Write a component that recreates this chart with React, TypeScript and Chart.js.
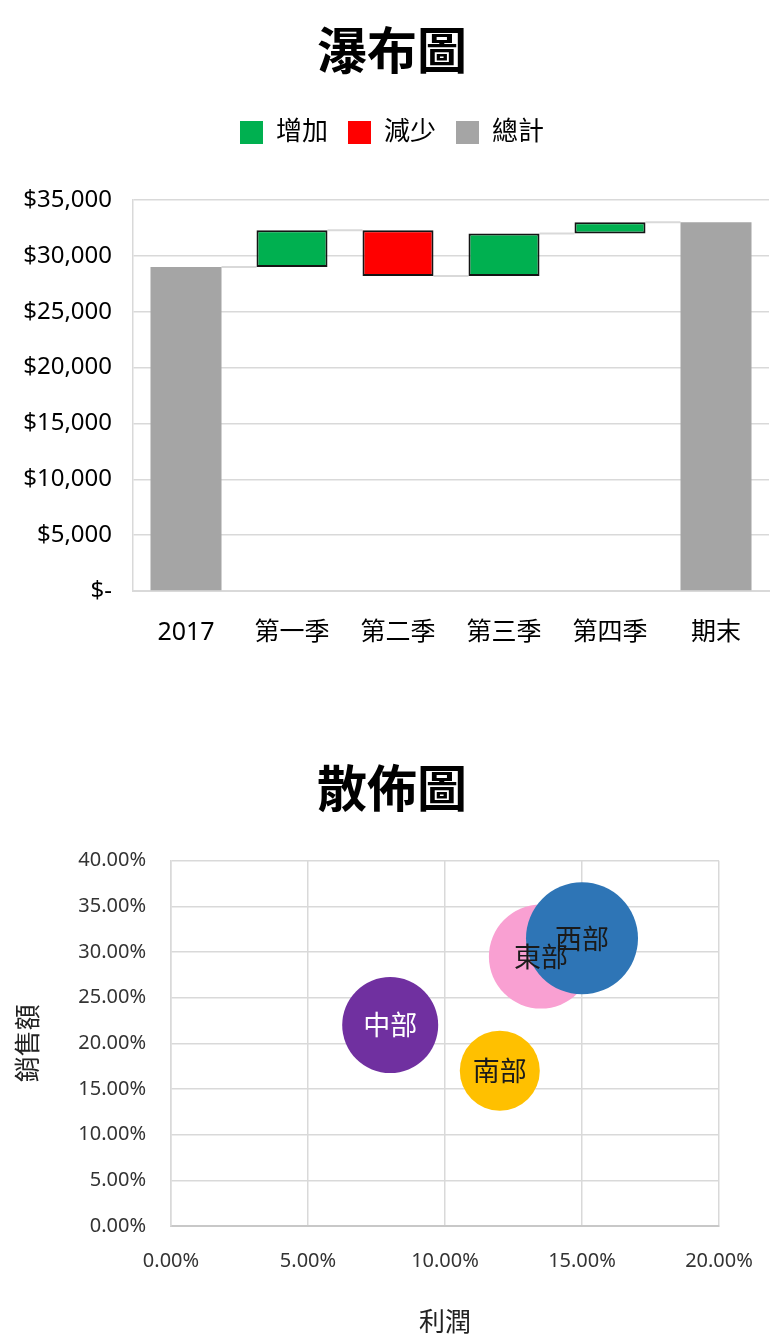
import React, { useEffect, useRef } from 'react';
import { Chart, registerables } from 'chart.js';

Chart.register(...registerables);

// ---------- Waterfall data ----------
const waterfallTitle = '瀑布圖';
const waterfallCategories = ['2017', '第一季', '第二季', '第三季', '第四季', '期末'];
const legendNames = ['增加', '減少', '總計'];
const startTotal = 29000;
const quarterChanges = [3300, -4100, 3800, 1000];
const endTotal = 33000;
const waterfallYMin = 0;
const waterfallYMax = 35000;
const waterfallYStep = 5000;

// ---------- Bubble data ----------
const scatterTitle = '散佈圖';
const regionNames = ['中部', '南部', '東部', '西部'];
const profitValues = [8, 12, 13.5, 15];
const salesValues = [22, 17, 29.5, 31.5];
const bubbleSizes = [48, 40, 52, 56];
const xAxisTitle = '利潤';
const yAxisTitle = '銷售額';
const scatterXMax = 20;
const scatterYMax = 40;
const scatterStep = 5;

const FONT = "'Noto Sans', 'Noto Sans CJK TC', sans-serif";
const CJK_FONT = "'Noto Sans CJK TC', 'Noto Sans', sans-serif";
const GREEN = '#00B050';
const RED = '#FF0000';
const GRAY = '#A5A5A5';
const GRID = '#D9D9D9';
const regionColors = ['#7030A0', '#FFC000', '#F9A0D2', '#2E75B6'];
const regionTextColors = ['#FFFFFF', '#1a1a1a', '#1a1a1a', '#1a1a1a'];

// an empty axis on the right that reserves space so the title stays centred on the canvas
const rightSpacer = (w: number) => ({
  type: 'linear',
  position: 'right',
  display: true,
  grid: { display: false, drawTicks: false },
  border: { display: false },
  ticks: { display: false },
  afterFit: (s: any) => { s.width = w; },
});

function WaterfallChart() {
  const ref = useRef<HTMLCanvasElement | null>(null);
  useEffect(() => {
    if (!ref.current) return;
    const inc: any[] = [null];
    const dec: any[] = [null];
    const tot: any[] = [[0, startTotal]];
    const levels: number[] = [startTotal];
    let level = startTotal;
    quarterChanges.forEach((c) => {
      const next = level + c;
      if (c >= 0) {
        inc.push([level, next]);
        dec.push(null);
      } else {
        inc.push(null);
        dec.push([next, level]);
      }
      tot.push(null);
      level = next;
      levels.push(level);
    });
    inc.push(null);
    dec.push(null);
    tot.push([0, endTotal]);

    const connectorPlugin = {
      id: 'connectors',
      beforeDatasetsDraw(chart: any) {
        const { ctx, scales } = chart;
        const getBar = (i: number) => {
          for (let d = 0; d < chart.data.datasets.length; d++) {
            const v = chart.data.datasets[d].data[i];
            if (v !== null && v !== undefined) return chart.getDatasetMeta(d).data[i];
          }
          return null;
        };
        ctx.save();
        ctx.strokeStyle = GRID;
        ctx.lineWidth = 2;
        for (let i = 0; i < levels.length; i++) {
          const a: any = getBar(i);
          const b: any = getBar(i + 1);
          if (!a || !b) continue;
          const y = scales.y.getPixelForValue(levels[i]);
          ctx.beginPath();
          ctx.moveTo(a.x + a.width / 2, y);
          ctx.lineTo(b.x - b.width / 2, y);
          ctx.stroke();
        }
        ctx.restore();
      },
    };

    const legendSpacer = {
      id: 'legendSpacer',
      beforeInit(chart: any) {
        const orig = chart.legend.fit;
        chart.legend.fit = function () {
          orig.call(this);
          this.height += 44.5;
        };
      },
    };

    const chart = new Chart(ref.current, {
      type: 'bar',
      data: {
        labels: waterfallCategories,
        datasets: [
          { label: legendNames[0], data: inc, backgroundColor: GREEN, borderColor: '#141414', borderWidth: 2, borderSkipped: false },
          { label: legendNames[1], data: dec, backgroundColor: RED, borderColor: '#141414', borderWidth: 2, borderSkipped: false },
          { label: legendNames[2], data: tot, backgroundColor: GRAY, borderWidth: 0, borderSkipped: false },
        ] as any,
      },
      plugins: [connectorPlugin, legendSpacer],
      options: {
        responsive: false,
        animation: false,
        devicePixelRatio: 1,
        layout: { padding: 0 },
        datasets: { bar: { grouped: false, barPercentage: 0.67, categoryPercentage: 1 } } as any,
        plugins: {
          tooltip: { enabled: false },
          title: {
            display: true,
            text: waterfallTitle,
            color: '#000',
            font: { family: CJK_FONT, size: 50, weight: 'bold' },
            padding: { top: 20, bottom: 19.5 },
          },
          legend: {
            display: true,
            position: 'top',
            labels: {
              boxWidth: 23,
              boxHeight: 23,
              padding: 20,
              color: '#000',
              font: { family: FONT, size: 26 },
              generateLabels: (ch: any) =>
                ch.data.datasets.map((ds: any, i: number) => ({
                  text: ds.label,
                  fillStyle: ds.backgroundColor,
                  strokeStyle: ds.backgroundColor,
                  lineWidth: 0,
                  hidden: false,
                  datasetIndex: i,
                  fontColor: '#000',
                })),
            },
          },
        },
        scales: {
          x: {
            offset: true,
            grid: { display: false, drawTicks: false },
            border: { display: true, color: GRID, width: 2 },
            ticks: { color: '#000', padding: 27, font: { family: FONT, size: 25 } },
            afterFit: (s: any) => { s.height = 89; },
          },
          y: {
            min: waterfallYMin,
            max: waterfallYMax,
            grid: { color: GRID, lineWidth: 1.5, drawTicks: false },
            border: { display: true, color: GRID, width: 1.5 },
            ticks: {
              stepSize: waterfallYStep,
              color: '#000',
              padding: 21,
              font: { family: FONT, size: 24 },
              callback: (v: any) => (Number(v) === 0 ? '$-' : '$' + Number(v).toLocaleString('en-US')),
            },
            afterFit: (s: any) => { s.width = 133; },
          },
          spacer: rightSpacer(15),
        },
      } as any,
    });
    return () => chart.destroy();
  }, []);
  return <canvas ref={ref} width={784} height={680} style={{ display: 'block', width: 784, height: 680 }} />;
}

function BubbleChart() {
  const ref = useRef<HTMLCanvasElement | null>(null);
  useEffect(() => {
    if (!ref.current) return;
    const labelPlugin = {
      id: 'bubbleLabels',
      afterDatasetsDraw(chart: any) {
        const { ctx } = chart;
        const meta = chart.getDatasetMeta(0);
        ctx.save();
        ctx.font = `27px ${CJK_FONT}`;
        ctx.textAlign = 'center';
        ctx.textBaseline = 'middle';
        meta.data.forEach((el: any, i: number) => {
          ctx.fillStyle = regionTextColors[i];
          ctx.fillText(regionNames[i], el.x, el.y);
        });
        ctx.restore();
      },
    };
    const pct = (v: any) => Number(v).toFixed(2) + '%';
    const chart = new Chart(ref.current, {
      type: 'bubble',
      data: {
        labels: regionNames,
        datasets: [
          {
            label: '',
            data: regionNames.map((_, i) => ({ x: profitValues[i], y: salesValues[i], r: bubbleSizes[i] })),
            backgroundColor: regionColors,
            borderWidth: 0,
            hoverRadius: 0,
          },
        ],
      },
      plugins: [labelPlugin],
      options: {
        responsive: false,
        animation: false,
        devicePixelRatio: 1,
        layout: { padding: 0 },
        plugins: {
          tooltip: { enabled: false },
          legend: { display: false },
          title: {
            display: true,
            text: scatterTitle,
            color: '#000',
            font: { family: CJK_FONT, size: 50, weight: 'bold' },
            padding: { top: 78, bottom: 42.7 },
          },
        },
        scales: {
          x: {
            type: 'linear',
            min: 0,
            max: scatterXMax,
            grid: { color: GRID, lineWidth: 1.5, drawTicks: false },
            border: { display: true, color: '#C8C8C8', width: 2 },
            ticks: { stepSize: scatterStep, color: '#333', padding: 23, font: { family: FONT, size: 20 }, callback: pct },
            title: { display: true, text: xAxisTitle, color: '#222', font: { family: CJK_FONT, size: 26 }, padding: { top: 0, bottom: 0 } },
            afterFit: (s: any) => { s.height = 111; },
          },
          y: {
            type: 'linear',
            min: 0,
            max: scatterYMax,
            grid: { color: GRID, lineWidth: 1.5, drawTicks: false },
            border: { display: true, color: GRID, width: 1.5 },
            ticks: { stepSize: scatterStep, color: '#333', padding: 25, font: { family: FONT, size: 20 }, callback: pct },
            title: { display: true, text: yAxisTitle, color: '#222', font: { family: CJK_FONT, size: 26 }, padding: { top: 12, bottom: 0 } },
            afterFit: (s: any) => { s.width = 171; },
          },
          spacer: rightSpacer(65),
        },
      } as any,
    });
    return () => chart.destroy();
  }, []);
  return <canvas ref={ref} width={784} height={657} style={{ display: 'block', width: 784, height: 657 }} />;
}

export default function App() {
  return (
    <div style={{ position: 'absolute', left: 0, top: 0, width: 784, height: 1337, background: '#fff' }}>
      <WaterfallChart />
      <BubbleChart />
    </div>
  );
}
